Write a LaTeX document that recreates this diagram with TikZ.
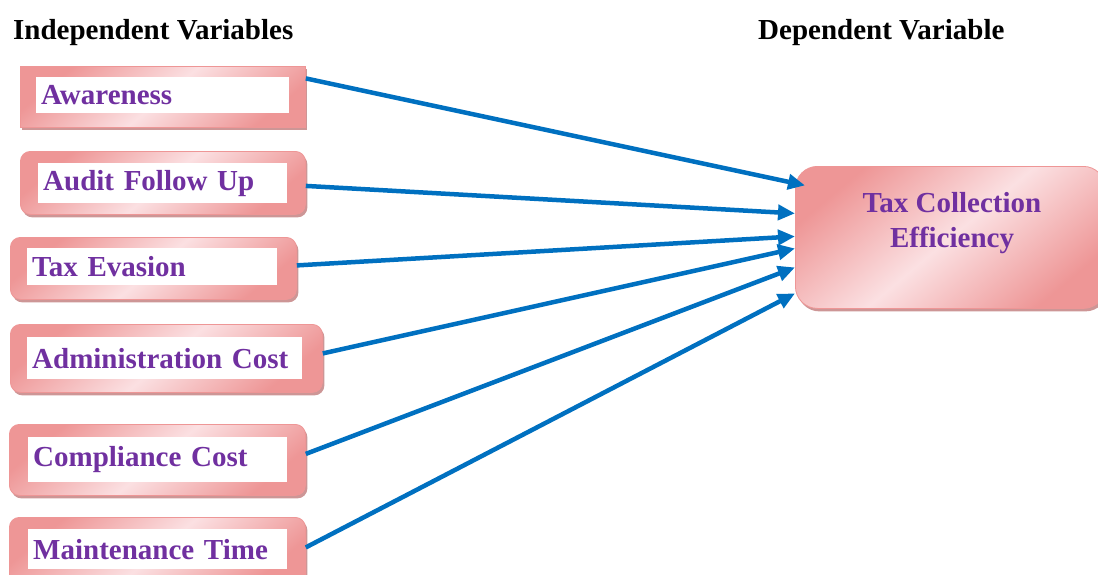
\documentclass[tikz,border=0pt]{standalone}
\usepackage{fontspec}
\setmainfont{Liberation Serif}
\usetikzlibrary{shadows,arrows.meta}
\definecolor{pkD}{RGB}{238,150,150}
\definecolor{pkL}{RGB}{251,224,226}
\definecolor{shd}{RGB}{205,150,150}
\definecolor{arr}{RGB}{0,112,192}
\definecolor{vio}{RGB}{112,48,160}
\tikzset{
  outerbox/.style={draw=pkD, line width=0.8pt, anchor=north west, inner sep=0pt,
    top color=pkD, bottom color=pkD, middle color=pkL, shading angle=40,
    drop shadow={shadow xshift=2pt, shadow yshift=-3pt, fill=shd, opacity=1}},
  rbox/.style={outerbox, rounded corners=10pt},
  inbox/.style={fill=white, anchor=north west, inner xsep=5pt, inner ysep=0pt, align=left,
    text=vio, font=\bfseries\fontsize{29}{34}\selectfont},
  ttl/.style={font=\bfseries\fontsize{29}{34}\selectfont, text=black, anchor=base west, inner sep=0pt},
  link/.style={draw=arr, line width=4.5pt, -{Triangle[length=17pt,width=15pt]}}
}
\begin{document}
\begin{tikzpicture}[x=1pt,y=-1pt]
\useasboundingbox (0,0) rectangle (1098,574);
\clip (0,0) rectangle (1098,574);
% titles
\node[ttl] (tl) at (13,39) {Independent Variables};
\node[ttl] (tr) at (758,39) {Dependent Variable};
% left boxes
\node[outerbox, minimum width=285pt, minimum height=61pt] (aw) at (20,66) {};
\node[inbox, text width=243pt, minimum height=36pt] (awt) at (36,77) {Awareness};
\node[rbox, minimum width=285pt, minimum height=63pt] (au) at (20,151) {};
\node[inbox, text width=239pt, minimum height=40pt] (aut) at (38,163) {Audit Follow Up};
\node[rbox, minimum width=286pt, minimum height=62pt] (te) at (10,237) {};
\node[inbox, text width=240pt, minimum height=37pt] (tet) at (27,248) {Tax Evasion};
\node[rbox, minimum width=312pt, minimum height=68pt] (ad) at (10,324) {};
\node[inbox, text width=265pt, minimum height=42pt] (adt) at (27,337) {Administration Cost};
\node[rbox, minimum width=296pt, minimum height=71pt] (cc) at (9,424) {};
\node[inbox, text width=249pt, minimum height=45pt] (cct) at (28,437) {Compliance Cost};
\node[rbox, minimum width=296pt, minimum height=68pt] (mt) at (9,517) {};
\node[inbox, text width=249pt, minimum height=40pt] (mtt) at (28,529) {Maintenance Time};
% target
\node[outerbox, rounded corners=22pt, minimum width=310pt, minimum height=142pt] (tce) at (795,166) {};
\node[align=center, text=vio, font=\bfseries\fontsize{29}{35}\selectfont, inner sep=0pt, anchor=base] (tcet) at (952,247) {Tax Collection\\Efficiency};
% links
\draw[link] ([yshift=18.5pt]aw.east) -- ([xshift=10pt,yshift=52pt]tce.west);
\draw[link] ([yshift=-3pt]au.east) -- ([yshift=24pt]tce.west);
\draw[link] ([yshift=3pt]te.east) -- ([yshift=1pt]tce.west);
\draw[link] ([yshift=5pt]ad.east) -- ([yshift=-11pt]tce.west);
\draw[link] ([yshift=6pt]cc.east) -- ([yshift=-30pt]tce.west);
\draw[link] ([yshift=4pt]mt.east) -- ([yshift=-56pt]tce.west);
\end{tikzpicture}
\end{document}
